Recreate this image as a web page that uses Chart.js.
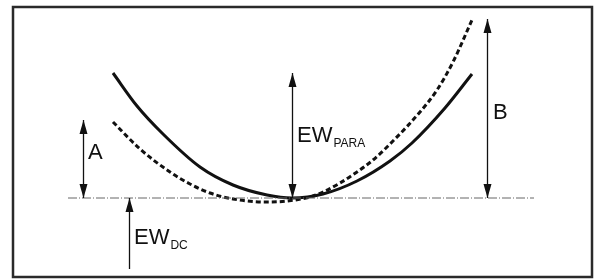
<!DOCTYPE html>
<html>
<head>
<meta charset="utf-8">
<script src="https://cdn.jsdelivr.net/npm/chart.js"></script>
<style>
  html,body{margin:0;padding:0;background:#fff;}
  canvas{display:block;}
</style>
</head>
<body>
<canvas id="ewChart" width="595" height="279"></canvas>
<script>
// curve samples: x position, height above the EW_DC level
const solidX  = [113, 137, 163, 200, 233, 267, 292, 323, 357, 390, 412, 445, 472];
const solidY  = [125,  92,  64,  31,  13,   3,   0,   4,  17,  37,  55,  90, 124];
const dashX   = [113, 140, 170, 190, 210, 233, 267, 287, 310, 323, 340, 357, 373, 395, 420, 437, 453, 472];
const dashY   = [ 76,  49,  26,  14,   5,  -1,  -4,  -3,   1,   6,  15,  26,  38,  59,  86, 108, 136, 178];
const baseX   = [68, 534];

// arrows: x, from, to, heads ('both' | 'top'), label, subscript
const arrowX    = [83, 129, 292, 487];
const arrowFrom = [0, -71, 0, 0];
const arrowTo   = [78, 0, 125, 179];
const arrowHead = ['both', 'top', 'both', 'both'];
const labelTxt  = ['A', 'EW', 'EW', 'B'];
const labelSub  = ['', 'DC', 'PARA', ''];
const labelAt   = [[88, 39], [134, -46], [297, 56], [493, 79]];   // data coords of text baseline start

const pts = (xs, ys) => xs.map((x, i) => ({x, y: ys[i]}));

const arrowsPlugin = {
  id: 'arrows',
  afterDatasetsDraw(chart) {
    const {ctx, scales: {x, y}} = chart;
    ctx.save();
    ctx.fillStyle = '#111'; ctx.strokeStyle = '#111';
    const head = (px, tip, dir) => {
      ctx.beginPath();
      ctx.moveTo(px, tip);
      ctx.lineTo(px - 4, tip + dir * 14);
      ctx.lineTo(px + 4, tip + dir * 14);
      ctx.closePath(); ctx.fill();
    };
    arrowX.forEach((ax, i) => {
      const px = Math.round(x.getPixelForValue(ax)) + 0.5;
      const y1 = y.getPixelForValue(arrowFrom[i]);
      const y2 = y.getPixelForValue(arrowTo[i]);
      ctx.lineWidth = 1.3;
      ctx.beginPath(); ctx.moveTo(px, y1); ctx.lineTo(px, y2); ctx.stroke();
      head(px, y2, 1);
      if (arrowHead[i] === 'both') head(px, y1, -1);
    });
    ctx.textBaseline = 'alphabetic';
    labelTxt.forEach((t, i) => {
      const lx = x.getPixelForValue(labelAt[i][0]);
      const ly = y.getPixelForValue(labelAt[i][1]);
      ctx.font = '22px "Liberation Sans", Arial, sans-serif';
      ctx.fillText(t, lx, ly);
      if (labelSub[i]) {
        const w = ctx.measureText(t).width;
        ctx.font = '12px "Liberation Sans", Arial, sans-serif';
        ctx.fillText(labelSub[i], lx + w + 1, ly + 5);
      }
    });
    // frame
    ctx.lineWidth = 2.5; ctx.strokeStyle = '#2a2a2a';
    ctx.strokeRect(13, 7, 579, 270);
    ctx.restore();
  }
};

new Chart(document.getElementById('ewChart'), {
  type: 'scatter',
  data: {
    datasets: [
      {data: pts(baseX, [0, 0]), showLine: true, borderColor: '#666', borderWidth: 1,
       borderDash: [9, 2, 1, 2], pointRadius: 0},
      {data: pts(solidX, solidY), showLine: true, borderColor: '#111', borderWidth: 3,
       cubicInterpolationMode: 'monotone', pointRadius: 0},
      {data: pts(dashX, dashY), showLine: true, borderColor: '#111', borderWidth: 3,
       borderDash: [5, 3], cubicInterpolationMode: 'monotone', pointRadius: 0}
    ]
  },
  options: {
    responsive: false,
    animation: false,
    layout: {padding: 0},
    plugins: {legend: {display: false}, tooltip: {enabled: false}},
    scales: {
      x: {type: 'linear', display: false, min: 0, max: 595},
      y: {type: 'linear', display: false, min: -81, max: 198}
    }
  },
  plugins: [arrowsPlugin]
});
</script>
</body>
</html>
